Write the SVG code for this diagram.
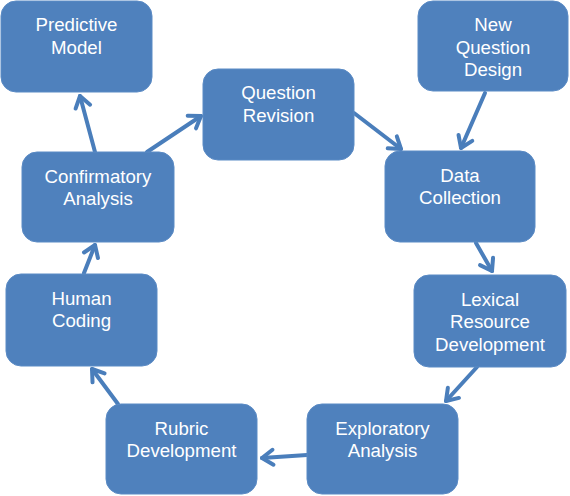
<svg xmlns="http://www.w3.org/2000/svg" width="570" height="496" viewBox="0 0 570 496">
<defs>
<style>
.box{fill:#4F81BD;stroke:#5B8BC5;stroke-width:1}
.t{fill:#FFFFFF;font-family:"Liberation Sans",Arial,sans-serif;font-size:18.67px;text-anchor:middle}
.c{stroke:#4A7EBB;stroke-width:4;fill:none;stroke-linecap:round;marker-end:url(#ah)}
</style>
<marker id="ah" markerUnits="userSpaceOnUse" viewBox="-16 -12 20 24" refX="0" refY="0" markerWidth="20" markerHeight="24" orient="auto" overflow="visible">
<path d="M-11,-7.5 L0,0 L-11,7.5" fill="none" stroke="#4A7EBB" stroke-width="4" stroke-linecap="round" stroke-linejoin="round"/>
</marker>
</defs>
<rect width="570" height="496" fill="#FFFFFF"/>
<g id="connectors">
<line class="c" x1="95" y1="152" x2="80" y2="96"/>
<line class="c" x1="147" y1="152" x2="201" y2="116"/>
<line class="c" x1="354" y1="113" x2="401" y2="149"/>
<line class="c" x1="485" y1="93" x2="461" y2="148"/>
<line class="c" x1="476" y1="243" x2="492" y2="271"/>
<line class="c" x1="477" y1="367" x2="446" y2="401"/>
<line class="c" x1="307" y1="455" x2="262" y2="458"/>
<line class="c" x1="118" y1="404" x2="92" y2="369"/>
<line class="c" x1="84" y1="273" x2="95" y2="245"/>
</g>
<g id="predictive-model">
<rect class="box" x="1" y="1" width="151" height="91" rx="15"/>
<text class="t" x="76.5" y="31">Predictive</text>
<text class="t" x="76.5" y="53.5">Model</text>
</g>
<g id="new-question-design">
<rect class="box" x="418" y="1" width="150" height="90" rx="15"/>
<text class="t" x="493" y="31">New</text>
<text class="t" x="493" y="53.5">Question</text>
<text class="t" x="493" y="76">Design</text>
</g>
<g id="question-revision">
<rect class="box" x="203" y="69" width="151" height="91" rx="15"/>
<text class="t" x="278.5" y="99">Question</text>
<text class="t" x="278.5" y="121.5">Revision</text>
</g>
<g id="confirmatory-analysis">
<rect class="box" x="22" y="152" width="152" height="90" rx="15"/>
<text class="t" x="98" y="182.5">Confirmatory</text>
<text class="t" x="98" y="205">Analysis</text>
</g>
<g id="data-collection">
<rect class="box" x="385" y="151" width="150" height="91" rx="15"/>
<text class="t" x="460" y="181.5">Data</text>
<text class="t" x="460" y="204">Collection</text>
</g>
<g id="human-coding">
<rect class="box" x="6" y="274" width="151" height="92" rx="15"/>
<text class="t" x="81.5" y="304.5">Human</text>
<text class="t" x="81.5" y="327">Coding</text>
</g>
<g id="lexical-resource-development">
<rect class="box" x="414" y="275" width="152" height="92" rx="15"/>
<text class="t" x="490" y="305.5">Lexical</text>
<text class="t" x="490" y="328">Resource</text>
<text class="t" x="490" y="350.5">Development</text>
</g>
<g id="rubric-development">
<rect class="box" x="106" y="404" width="151" height="90" rx="15"/>
<text class="t" x="181.5" y="434.5">Rubric</text>
<text class="t" x="181.5" y="457">Development</text>
</g>
<g id="exploratory-analysis">
<rect class="box" x="307" y="404" width="151" height="90" rx="15"/>
<text class="t" x="382.5" y="434.5">Exploratory</text>
<text class="t" x="382.5" y="457">Analysis</text>
</g>
</svg>
